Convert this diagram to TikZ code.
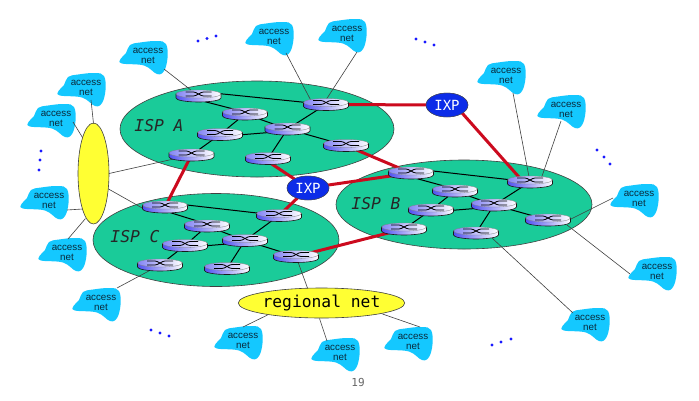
\documentclass[tikz,border=0pt]{standalone}
\usepackage{fontspec}
\setmainfont{Liberation Sans}
\setmonofont{DejaVu Sans Mono}
\usetikzlibrary{shapes.geometric,calc}
\definecolor{ispgreen}{HTML}{1ACB99}
\definecolor{cloudblue}{HTML}{14C8FF}
\definecolor{rlink}{HTML}{CC0A1E}
\definecolor{ixpblue}{HTML}{0C2CE8}
\definecolor{ylw}{HTML}{FFFF33}
\definecolor{rblue}{HTML}{5050F0}
\definecolor{accesstext}{HTML}{0A2A3C}
\tikzset{
  isp/.style={draw=black!75,fill=ispgreen,line width=.6pt},
  ylwshape/.style={ellipse,draw=black!75,fill=ylw,line width=.6pt,inner sep=0pt},
  rnode/.style={ellipse,minimum width=44pt,minimum height=12pt,inner sep=0pt},
  thinlink/.style={draw=black!75,line width=.6pt},
  rtlink/.style={draw=black,line width=1pt},
  rdlink/.style={draw=rlink,line width=3pt},
  ixpnode/.style={ellipse,draw=black!70,fill=ixpblue,text=white,minimum width=42pt,minimum height=24pt,inner sep=0pt,font=\ttfamily\fontsize{14}{16}\selectfont},
  accessnode/.style={align=center,inner sep=0pt,text=accesstext,font=\fontsize{9.8}{10}\selectfont},
  cloudshape/.style={fill=cloudblue,draw=none},
  isplabel/.style={font=\ttfamily\itshape\fontsize{16.3}{18}\selectfont,text=black!85},
  dotmark/.style={circle,fill=blue!90,inner sep=0pt,minimum size=3.4pt},
}
\newcommand{\cloudat}[2]{%
  \fill[cloudshape,shift={(#2)}] plot[smooth cycle,tension=.65] coordinates {(-27.5,3) (-22,-3) (-18,-11) (-8,-13.5) (9,-15) (18,-12) (19.5,2) (16,15) (9,18) (-4,9.5) (-26,7.5)};
  \node[accessnode] (#1) at (#2) {access\\net};}
\newcommand{\lk}[5]{\draw[#1] ($(#2)+(#3)$) -- ($(#4)+(#5)$);}
\newcommand{\routerdraw}[1]{%
  \begin{scope}[shift={(#1)}]
    \path[left color=rblue,right color=white,draw=black!90,line width=.6pt]
      (-22.5,-2) -- (-22.5,2) arc[start angle=180,end angle=0,x radius=22.5,y radius=4] -- (22.5,-2) -- cycle;
    \path[left color=rblue!70,right color=white,draw=black!50,line width=.3pt] (0,-2) ellipse[x radius=22.5,y radius=4];
    \draw[black,line width=.8pt] (-13,-4) -- (-5,-4) .. controls (-2,-4) and (2,0) .. (5,0) -- (13,0);
    \draw[black,line width=.8pt] (-13,0) -- (-5,0) .. controls (-2,0) and (2,-4) .. (5,-4) -- (13,-4);
  \end{scope}}
\begin{document}
\begin{tikzpicture}[x=1pt,y=-1pt]
\useasboundingbox (0,0) rectangle (699,400);
\fill[white] (0,0) rectangle (699,400);
% ISPs
\path[isp] (257,129) ellipse[x radius=137,y radius=48];
\path[isp] (464,204.5) ellipse[x radius=128,y radius=44.5];
\path[isp] (216,240) ellipse[x radius=123,y radius=46.5];
% router anchors
\foreach \n/\p in {a1/{198.5,96},a2/{245,114},a3/{220,134.5},a4/{191.5,155},a5/{287.5,129},a6/{268,158.5},a7/{326,104.5},a8/{346,145.5},
 b1/{411,173},b2/{455,191},b3/{431,210},b4/{404,229},b5/{494,205},b6/{476,233},b7/{530,182},b8/{548,220},
 c1/{165,207},c2/{207,226},c3/{185,245.5},c4/{160,265},c5/{245,240.5},c6/{227,268.5},c7/{279,215.5},c8/{296,256.5}}
  {\node[rnode] (\n) at (\p) {};}
% IXPs, regional
\node[ixpnode] (ixp1) at (447,105) {IXP};
\node[ixpnode] (ixp2) at (308,188) {IXP};
\node[ylwshape,minimum width=31pt,minimum height=101pt] (yl) at (93.5,173.5) {};
\node[ylwshape,minimum width=163pt,minimum height=30pt,font=\ttfamily\fontsize{16.3}{18}\selectfont,text=black] (reg) at (321.5,303) {regional net};
% clouds
\cloudat{n1}{148,56}
\cloudat{n2}{86,88}
\cloudat{n3}{56,119}
\cloudat{n4}{49,201}
\cloudat{n5}{67,253}
\cloudat{n6}{101,303}
\cloudat{n7}{243,341}
\cloudat{n8}{340,353}
\cloudat{n9}{413,342}
\cloudat{n10}{590,323}
\cloudat{n11}{657,272}
\cloudat{n12}{639,199}
\cloudat{n13}{566,110}
\cloudat{n14}{506,76}
\cloudat{n15}{347,34}
\cloudat{n16}{274,37}
% access links
\lk{thinlink}{n1}{16,13}{a1}{0,0}
\lk{thinlink}{n16}{12,16}{a7}{-13,0}
\lk{thinlink}{n15}{10,18}{a7}{-3,0}
\lk{thinlink}{n14}{7,17}{b7}{0,0}
\lk{thinlink}{n13}{-5,11}{b7}{10,0}
\lk{thinlink}{n12}{-26,-1}{b8}{21,0}
\lk{thinlink}{n11}{-27,2}{b8}{19,5}
\lk{thinlink}{n10}{-17,-10}{b6}{16,5}
\lk{thinlink}{n2}{5,12}{yl}{0,-50}
\lk{thinlink}{n3}{17,3}{yl}{-11,-36}
\lk{thinlink}{n4}{18,9}{yl}{-11,35.5}
\lk{thinlink}{n5}{1,-14}{yl}{-8,45}
\lk{thinlink}{n6}{16,-15}{c4}{0,0}
\lk{thinlink}{yl}{15.5,0}{a4}{0,0}
\lk{thinlink}{yl}{15,15.5}{c1}{-21,2}
\lk{thinlink}{c8}{0,0}{reg}{-14,-15}
\lk{thinlink}{reg}{-54,12}{n7}{0,-14}
\lk{thinlink}{reg}{-2,15.5}{n8}{-13,-12}
\lk{thinlink}{reg}{61,11}{n9}{7,-15}
% backbone
\foreach \s in {a,b,c}{
  \lk{rtlink}{\s1}{0,-4.5}{\s7}{0,0}
  \lk{rtlink}{\s1}{0,4}{\s2}{0,-2}
  \lk{rtlink}{\s2}{0,0}{\s3}{0,0}
  \lk{rtlink}{\s2}{0,0}{\s5}{0,0}
  \lk{rtlink}{\s3}{0,0}{\s4}{0,0}
  \lk{rtlink}{\s3}{0,2}{\s5}{0,2}
  \lk{rtlink}{\s5}{0,0}{\s7}{0,0}
  \lk{rtlink}{\s5}{0,0}{\s8}{0,0}
  \lk{rtlink}{\s5}{0,0}{\s6}{0,0}
}
% red links
\lk{rdlink}{a7}{0,0}{ixp1}{0,0}
\lk{rdlink}{ixp1}{0,-9}{b7}{-4,3}
\lk{rdlink}{a8}{0,0}{b1}{0,0}
\lk{rdlink}{a6}{0,3}{ixp2}{0,0}
\lk{rdlink}{ixp2}{0,0}{b1}{0,0}
\lk{rdlink}{ixp2}{0,0}{c7}{0,0}
\lk{rdlink}{a4}{0,0}{c1}{0,0}
\lk{rdlink}{c8}{0,0}{b4}{0,0}
% routers on top
\foreach \n in {a1,a2,a3,a4,a5,a6,a7,a8,b1,b2,b3,b4,b5,b6,b7,b8,c1,c2,c3,c4,c5,c6,c7,c8}{\routerdraw{\n}}
\node[ixpnode] at (ixp1) {IXP};
\node[ixpnode] at (ixp2) {IXP};
% labels
\node[isplabel] (la) at (159,126) {ISP A};
\node[isplabel] (lb) at (376,204) {ISP B};
\node[isplabel] (lc) at (135,237) {ISP C};
\node[text=black!60,font=\ttfamily\fontsize{11}{12}\selectfont] (pg) at (358,382) {19};
% dots
\foreach \p in {{198,41},{207,38.5},{216,36},{416,39},{425,42},{434,45},{41,151},{40,160},{39,170},{597,150},{604,157},{610,164},{151,330},{160,333},{169,336},{492,345},{501,342},{511,339}}
  {\node[dotmark] at (\p) {};}
\end{tikzpicture}
\end{document}
